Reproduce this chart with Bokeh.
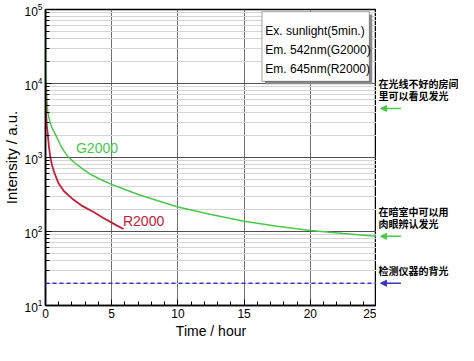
from bokeh.plotting import figure
from bokeh.layouts import row
from bokeh.models import (Range1d, LogTicker, SingleIntervalTicker, Label, Arrow,
                          NormalHead, BoxAnnotation, Span)
from bokeh.embed import file_html
from bokeh.resources import INLINE

# ---- data ----
g_time = [0, 0.01, 0.02, 0.035, 0.05, 0.08, 0.12, 0.17, 0.25, 0.35, 0.5, 0.74, 1.1,
          1.4, 1.72, 2.2, 2.8, 3.5, 4.2, 4.9, 6, 7, 8.5, 10, 12.5, 15, 17.5, 20, 22.5, 25]
g_int = [100000, 40000, 22000, 14000, 10000, 7500, 5500, 4200, 3500, 3000, 2500, 2070,
         1510, 1220, 1010, 850, 700, 580, 500, 440, 370, 316, 260, 214, 170, 138, 118,
         103, 94, 86]
r_time = [0, 0.01, 0.03, 0.06, 0.1, 0.17, 0.26, 0.37, 0.5, 0.7, 0.98, 1.4, 2.1, 2.8,
          3.7, 4.3, 4.9, 5.4, 5.9]
r_int = [10000, 7500, 5200, 3600, 2700, 2070, 1400, 1000, 780, 600, 450, 350, 270,
         220, 181, 155, 135, 120, 108]
background_level = 20

legend_lines = ["Ex. sunlight(5min.)", "Em. 542nm(G2000)", "Em. 645nm(R2000)"]
note_lines = [["在光线不好的房间", "里可以看见发光"],
              ["在暗室中可以用", "肉眼辨认发光"],
              ["检测仪器的背光"]]
note_levels = [4600, 86, 20]

GREEN = "#4ac84a"
RED = "#c0203c"
BLUE = "#3838c0"
FONT = "Liberation Sans"
CJK = "Noto Sans CJK SC"

y_range = Range1d(10, 1e5)

p = figure(width=376, height=345, y_axis_type="log",
           x_range=Range1d(0, 25), y_range=y_range,
           output_backend="svg", toolbar_location=None,
           min_border_left=37, min_border_right=0, min_border_top=9,
           min_border_bottom=40)

p.background_fill_color = "white"
p.border_fill_color = "white"
p.outline_line_color = "black"
p.outline_line_width = 1.5

# axes
p.xaxis.ticker = SingleIntervalTicker(interval=5, num_minor_ticks=5)
p.yaxis.ticker = LogTicker(num_minor_ticks=10)
for ax in (p.xaxis, p.yaxis):
    ax.axis_line_color = "black"
    ax.axis_line_width = 1.5
    ax.major_tick_in = 6
    ax.major_tick_out = 0
    ax.minor_tick_in = 4
    ax.minor_tick_out = 0
    ax.major_tick_line_color = "black"
    ax.minor_tick_line_color = "black"
    ax.major_label_text_font = FONT
    ax.major_label_text_font_size = "12px"
    ax.major_label_text_color = "black"
    ax.axis_label_text_font = FONT
    ax.axis_label_text_font_style = "normal"
    ax.axis_label_text_color = "black"
    ax.major_label_standoff = 3
    ax.axis_label_standoff = 2
p.xaxis.axis_label = "Time / hour"
p.xaxis.axis_label_text_font_size = "14px"
p.yaxis.axis_label = "Intensity / a.u."
p.yaxis.axis_label_text_font_size = "15px"
p.yaxis.axis_label_standoff = 1

# grids
p.xgrid.grid_line_color = "#707070"
p.xgrid.grid_line_width = 1
p.ygrid.grid_line_color = "#505050"
p.ygrid.grid_line_width = 1
p.ygrid.minor_grid_line_color = "#d4d4d4"
p.ygrid.minor_grid_line_width = 1

# background level
p.add_layout(Span(location=background_level, dimension="width", line_color=BLUE,
                  line_dash="4 3", line_width=1.5))

# curves
p.line(g_time, g_int, line_color=GREEN, line_width=1.5)
p.line(r_time, r_int, line_color=RED, line_width=1.8)

p.add_layout(Label(x=2.3, y=1330, text="G2000", text_color=GREEN, text_font=FONT,
                   text_font_size="14px", text_baseline="middle"))
p.add_layout(Label(x=5.85, y=140, text="R2000", text_color=RED, text_font=FONT,
                   text_font_size="14px", text_baseline="middle"))

# info box with shadow
p.add_layout(BoxAnnotation(left=16.57, right=24.68, bottom=9760, top=85500,
                           fill_color="#8a8a8a", fill_alpha=1, line_color=None))
p.add_layout(BoxAnnotation(left=16.35, right=24.46, bottom=10700, top=93700,
                           fill_color="white", fill_alpha=1, line_color="black",
                           line_width=1.2))
for i, txt in enumerate(legend_lines):
    p.add_layout(Label(x=16.6, y=93700, y_offset=-19 - 19 * i, text=txt,
                       text_font=FONT, text_font_size="12px", text_color="black",
                       text_baseline="middle"))

# side panel with the notes (same y scale as the main chart)
s = figure(width=82, height=345, y_axis_type="log",
           x_range=Range1d(25, 25 + 82 / 13.56), y_range=y_range,
           output_backend="svg", toolbar_location=None,
           x_axis_location=None, y_axis_location=None,
           min_border_left=0, min_border_right=0, min_border_top=9,
           min_border_bottom=40)
s.grid.visible = False
s.outline_line_color = None
s.border_fill_color = "white"
s.background_fill_color = "white"

for lines, lvl, col in zip(note_lines, note_levels, [GREEN, GREEN, BLUE]):
    n = len(lines)
    for j, t in enumerate(lines):
        s.add_layout(Label(x=25.15, y=lvl, y_offset=12 * (n - j) + 1, text=t,
                           text_font=CJK, text_font_size="10px",
                           text_font_style="bold", text_color="black",
                           text_baseline="middle"))
    s.add_layout(Arrow(x_start=26.8, y_start=lvl, x_end=25.3, y_end=lvl,
                       line_color=col, line_width=1.5,
                       end=NormalHead(size=6, fill_color=col, line_color=col)))

layout = row(p, s, spacing=0)
open("out.html", "w").write(file_html(layout, INLINE))
